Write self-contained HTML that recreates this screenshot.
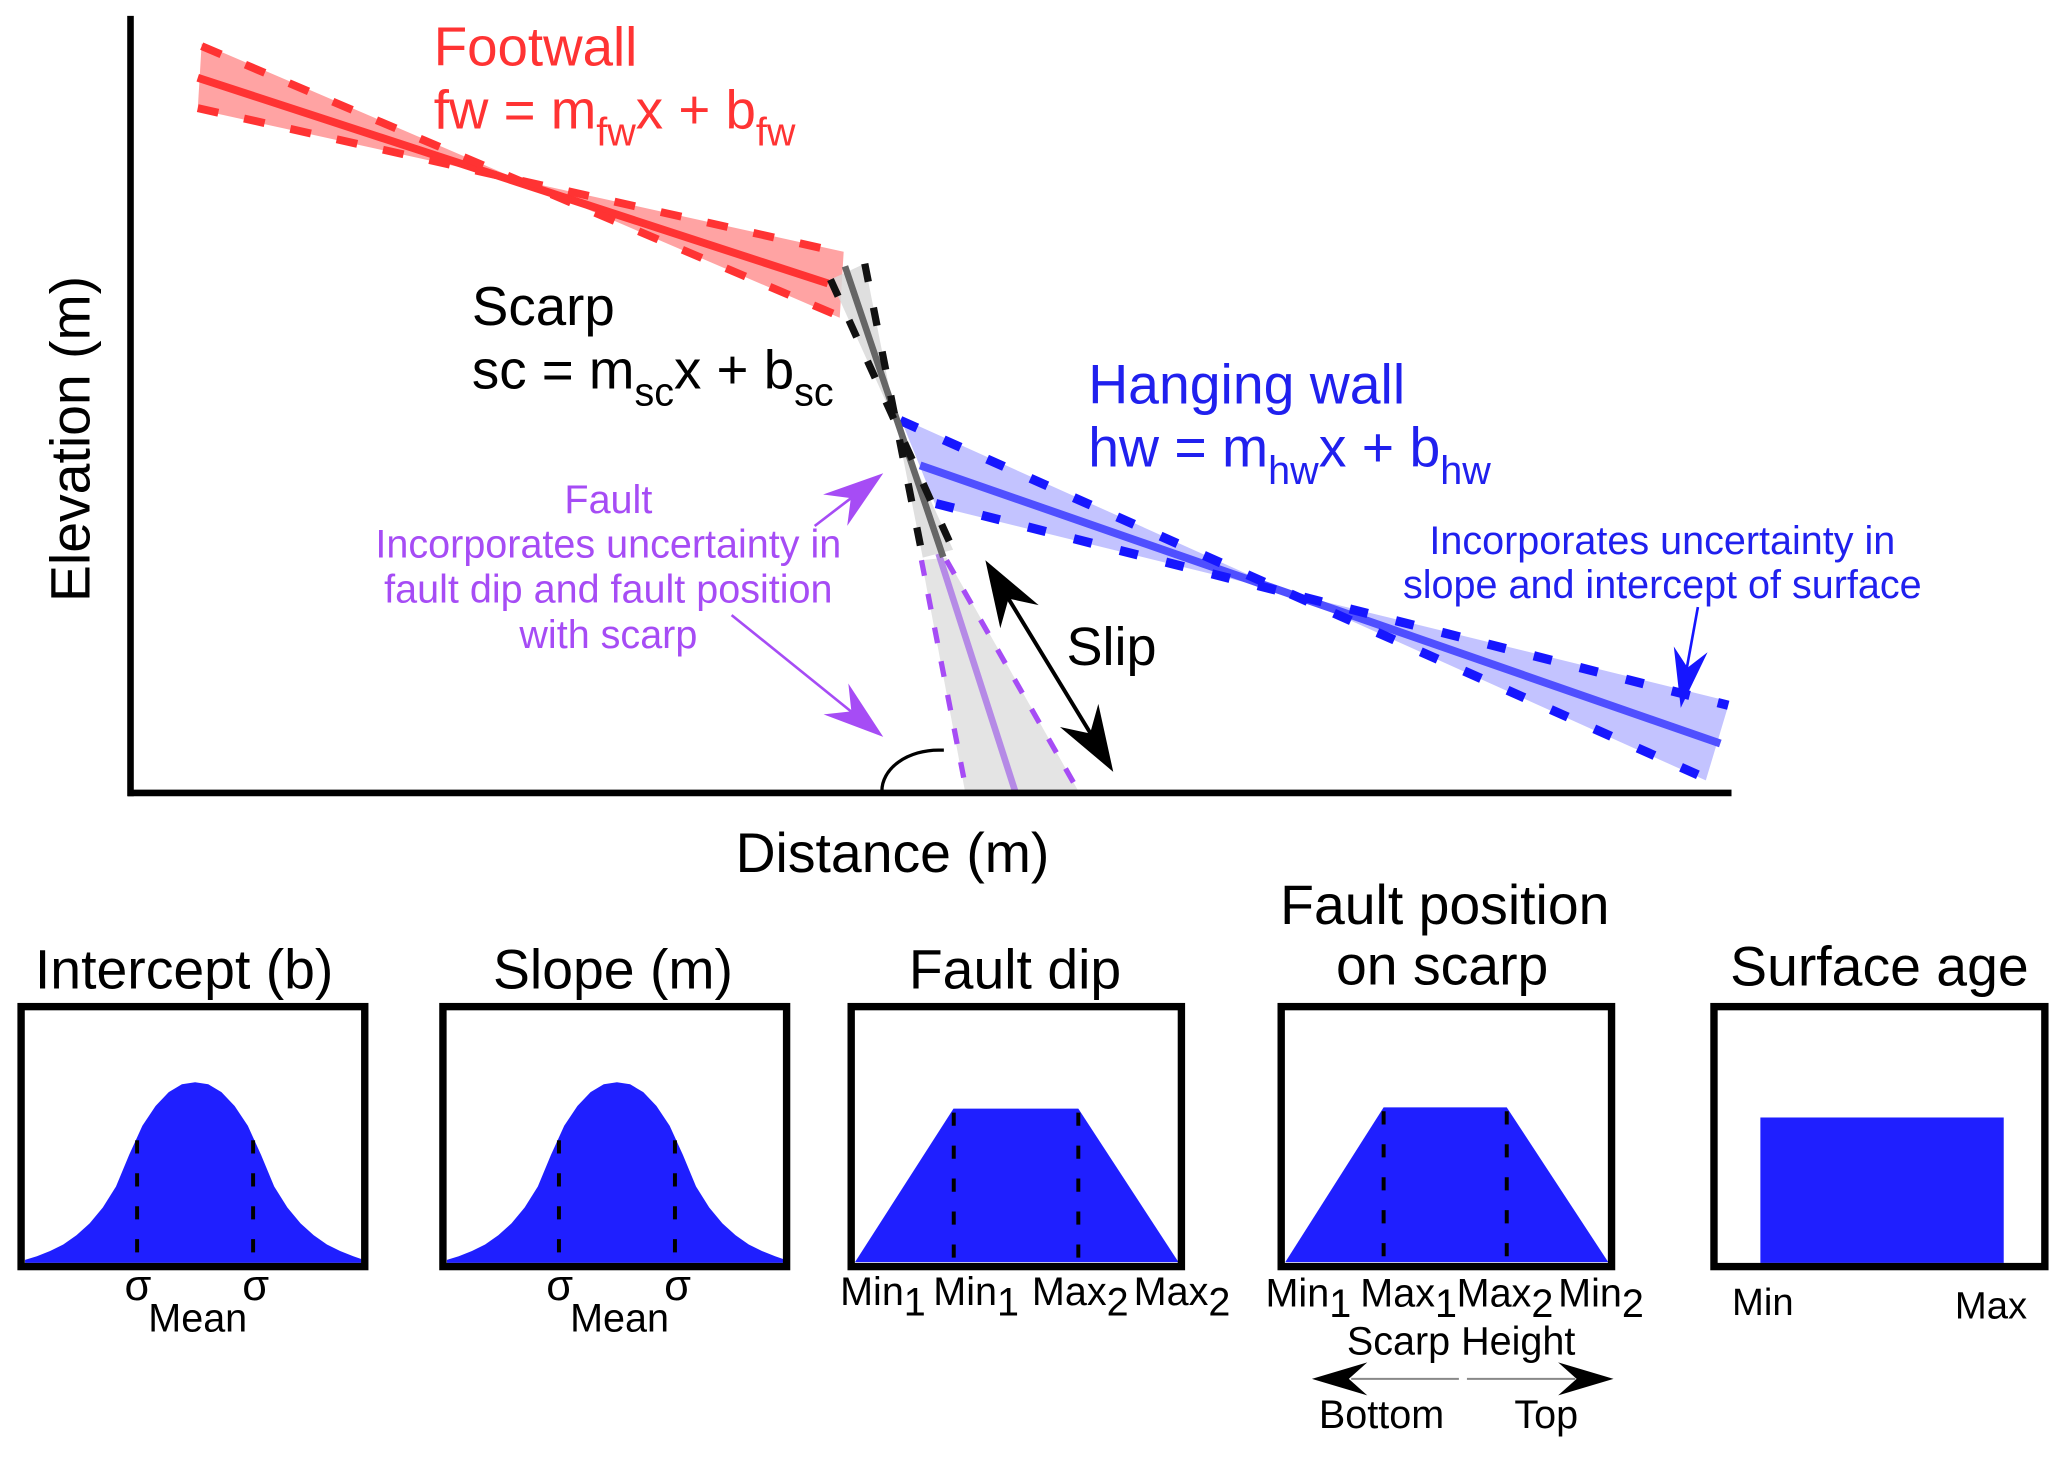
<!DOCTYPE html>
<html><head><meta charset="utf-8"><style>
html,body{margin:0;padding:0;background:#fff;}
svg{display:block;}
text{font-family:"Liberation Sans",Arial,sans-serif;}
</style></head><body>
<svg width="2067" height="1458" viewBox="0 0 1568 1106" preserveAspectRatio="none" xmlns="http://www.w3.org/2000/svg">
<rect x="0" y="0" width="1568" height="1106" fill="#fff"/>

<!-- fills -->
<polygon points="699,425 718,423 818,600 732,600" fill="#e4e4e4"/>
<polygon points="150,83 640,191 637,241 153,33" fill="#ffa3a3"/>
<polygon points="683,317 1294,592 1312,532 710,384" fill="#c3c3ff"/>
<polygon points="630,212 723,417 700,423 656,200" fill="#d9d9d9" fill-opacity="0.85"/>

<!-- footwall lines -->
<line x1="150" y1="59" x2="628" y2="215" stroke="#ff3333" stroke-width="6"/>
<line x1="153" y1="35" x2="637" y2="240" stroke="#ff3333" stroke-width="6" stroke-dasharray="16 20"/>
<line x1="150" y1="82" x2="640" y2="192" stroke="#ff3333" stroke-width="6" stroke-dasharray="16 20"/>

<!-- hanging wall lines -->
<line x1="698" y1="353" x2="1305" y2="564" stroke="#4f4fff" stroke-width="6"/>
<line x1="683" y1="319" x2="1293" y2="590" stroke="#1616ff" stroke-width="7" stroke-dasharray="14 22"/>
<line x1="710" y1="382" x2="1311" y2="535" stroke="#1616ff" stroke-width="7" stroke-dasharray="14 22"/>

<!-- fault lines -->
<line x1="712" y1="420" x2="770" y2="600" stroke="#b58ae6" stroke-width="5"/>
<line x1="699" y1="425" x2="733" y2="600" stroke="#a64cf5" stroke-width="4" stroke-dasharray="12 14"/>
<line x1="718" y1="425" x2="818" y2="600" stroke="#a64cf5" stroke-width="4" stroke-dasharray="12 14"/>

<!-- scarp lines -->
<line x1="641" y1="202" x2="715.5" y2="422.6" stroke="#666" stroke-width="5"/>
<line x1="630" y1="212" x2="723" y2="417" stroke="#111" stroke-width="5.5" stroke-dasharray="14 20"/>
<line x1="656" y1="200" x2="700" y2="423" stroke="#111" stroke-width="5.5" stroke-dasharray="14 20"/>

<!-- axes -->
<line x1="99" y1="12" x2="99" y2="604" stroke="#000" stroke-width="5"/>
<line x1="97" y1="601.5" x2="1313.5" y2="601.5" stroke="#000" stroke-width="5"/>

<!-- dip angle arc -->
<path d="M669,600 A43,31 0 0 1 712,569 L716,569" fill="none" stroke="#000" stroke-width="2.5"/>

<!-- slip arrow -->
<line x1="757" y1="441" x2="835" y2="569" stroke="#000" stroke-width="3"/>
<path d="M0,0 L-50,-17 L-34,0 L-50,17 Z" fill="#000" transform="translate(747.5,425) rotate(-121.15)"/>
<path d="M0,0 L-50,-17 L-34,0 L-50,17 Z" fill="#000" transform="translate(844.5,585.5) rotate(58.85)"/>

<!-- blue annotation arrow -->
<line x1="1288" y1="460.5" x2="1279" y2="510" stroke="#1616ff" stroke-width="2"/>
<path d="M0,0 L-45,-13 L-31,0 L-45,13 Z" fill="#1616ff" transform="translate(1275,537) rotate(99.64)"/>

<!-- purple arrows -->
<line x1="618" y1="399" x2="648" y2="376" stroke="#a64cf5" stroke-width="2"/>
<path d="M0,0 L-46,-15 L-31,0 L-46,15 Z" fill="#a64cf5" transform="translate(670,359) rotate(-37.57)"/>
<line x1="555" y1="466.6" x2="646" y2="540" stroke="#a64cf5" stroke-width="2"/>
<path d="M0,0 L-46,-15 L-31,0 L-46,15 Z" fill="#a64cf5" transform="translate(670,559) rotate(38.78)"/>

<!-- main texts -->
<text x="329" y="49.5" font-size="41.5" fill="#ff3333">Footwall</text>
<text x="329" y="97.5" font-size="41.5" fill="#ff3333">fw = m<tspan font-size="30" dy="13">fw</tspan><tspan dy="-13">x + b</tspan><tspan font-size="30" dy="13">fw</tspan></text>

<text x="358" y="246.6" font-size="41.5" fill="#000">Scarp</text>
<text x="358" y="294.6" font-size="41.5" fill="#000">sc = m<tspan font-size="30" dy="13">sc</tspan><tspan dy="-13">x + b</tspan><tspan font-size="30" dy="13">sc</tspan></text>

<text x="825.5" y="306" font-size="42" fill="#2020ee">Hanging wall</text>
<text x="825.5" y="354" font-size="42" fill="#2020ee">hw = m<tspan font-size="30" dy="13">hw</tspan><tspan dy="-13">x + b</tspan><tspan font-size="30" dy="13">hw</tspan></text>

<g font-size="30" fill="#2020ee" text-anchor="middle">
<text x="1261" y="420.4">Incorporates uncertainty in</text>
<text x="1261" y="453.7">slope and intercept of surface</text>
</g>

<g font-size="30" fill="#a64cf5" text-anchor="middle">
<text x="461.5" y="389">Fault</text>
<text x="461.5" y="423">Incorporates uncertainty in</text>
<text x="461.5" y="457">fault dip and fault position</text>
<text x="461.5" y="491.4">with scarp</text>
</g>

<text x="809" y="504.6" font-size="41" fill="#000">Slip</text>

<text transform="translate(68,333) rotate(-90)" text-anchor="middle" font-size="42" fill="#000">Elevation (m)</text>
<text x="677" y="661.4" text-anchor="middle" font-size="42" fill="#000">Distance (m)</text>

<!-- panel titles -->
<g font-size="42" fill="#000" text-anchor="middle">
<text x="139.7" y="749.8">Intercept (b)</text>
<text x="465" y="749.8">Slope (m)</text>
<text x="770" y="749.8">Fault dip</text>
<text x="1096" y="701">Fault position</text>
<text x="1094" y="747">on scarp</text>
<text x="1425.7" y="747.5">Surface age</text>
</g>

<!-- panel 1 -->
<path d="M19,955.7 L28,953 L38,949 L48,944 L58,937 L68,928 L78,916 L88,900 L98,876 L108,854 L118,839 L128,828.5 L138,822.5 L148,821 L158,822.5 L168,828.5 L178,839 L188,854 L198,876 L208,900 L218,916 L228,928 L238,937 L248,944 L258,949 L268,953 L274,955 L274,958 L19,958 Z" fill="#1f1fff"/>
<line x1="104" y1="865" x2="104" y2="957" stroke="#000" stroke-width="3" stroke-dasharray="10 15"/>
<line x1="192" y1="865" x2="192" y2="957" stroke="#000" stroke-width="3" stroke-dasharray="10 15"/>
<rect x="16" y="763.6" width="260.7" height="197.2" fill="none" stroke="#000" stroke-width="5.6"/>

<!-- panel 2 -->
<g transform="translate(320,0)">
<path d="M19,955.7 L28,953 L38,949 L48,944 L58,937 L68,928 L78,916 L88,900 L98,876 L108,854 L118,839 L128,828.5 L138,822.5 L148,821 L158,822.5 L168,828.5 L178,839 L188,854 L198,876 L208,900 L218,916 L228,928 L238,937 L248,944 L258,949 L268,953 L274,955 L274,958 L19,958 Z" fill="#1f1fff"/>
<line x1="104" y1="865" x2="104" y2="957" stroke="#000" stroke-width="3" stroke-dasharray="10 15"/>
<line x1="192" y1="865" x2="192" y2="957" stroke="#000" stroke-width="3" stroke-dasharray="10 15"/>
<rect x="16" y="763.6" width="260.7" height="197.2" fill="none" stroke="#000" stroke-width="5.6"/>
</g>

<g font-size="33" fill="#000" text-anchor="middle">
<text x="104.6" y="986">σ</text>
<text x="194" y="986">σ</text>
<text x="424.6" y="986">σ</text>
<text x="514" y="986">σ</text>
</g>
<g font-size="30" fill="#000" text-anchor="middle">
<text x="150" y="1010">Mean</text>
<text x="470" y="1010">Mean</text>
</g>

<!-- panel 3 -->
<polygon points="648.6,957.4 723.3,841 818,841 894,957.4" fill="#1f1fff"/>
<line x1="723.5" y1="844" x2="723.5" y2="957" stroke="#000" stroke-width="3" stroke-dasharray="10 15"/>
<line x1="818" y1="844" x2="818" y2="957" stroke="#000" stroke-width="3" stroke-dasharray="10 15"/>
<rect x="645.7" y="763.6" width="250.5" height="197.2" fill="none" stroke="#000" stroke-width="5.6"/>
<g font-size="30" fill="#000">
<text x="637.3" y="990">Min<tspan dy="8">1</tspan></text>
<text x="708" y="990">Min<tspan dy="8">1</tspan></text>
<text x="782.8" y="990">Max<tspan dy="8">2</tspan></text>
<text x="860" y="990">Max<tspan dy="8">2</tspan></text>
</g>

<!-- panel 4 -->
<polygon points="975,957.4 1049.6,840 1143,840 1220,957.4" fill="#1f1fff"/>
<line x1="1049.6" y1="843" x2="1049.6" y2="957" stroke="#000" stroke-width="3" stroke-dasharray="10 15"/>
<line x1="1143" y1="843" x2="1143" y2="957" stroke="#000" stroke-width="3" stroke-dasharray="10 15"/>
<rect x="971.9" y="763.6" width="250.6" height="197.2" fill="none" stroke="#000" stroke-width="5.6"/>
<g font-size="30" fill="#000">
<text x="960" y="991">Min<tspan dy="8">1</tspan></text>
<text x="1031.9" y="991">Max<tspan dy="8">1</tspan></text>
<text x="1105" y="991">Max<tspan dy="8">2</tspan></text>
<text x="1182" y="991">Min<tspan dy="8">2</tspan></text>
</g>
<text x="1108.4" y="1027.5" font-size="30" text-anchor="middle" fill="#000">Scarp Height</text>
<line x1="1025" y1="1046" x2="1106.7" y2="1046" stroke="#888" stroke-width="1.5"/>
<line x1="1112.8" y1="1046" x2="1195" y2="1046" stroke="#888" stroke-width="1.5"/>
<path d="M0,0 L-42,-12.5 L-28,0 L-42,12.5 Z" fill="#000" transform="translate(995.2,1046) rotate(180)"/>
<path d="M0,0 L-42,-12.5 L-28,0 L-42,12.5 Z" fill="#000" transform="translate(1224,1046)"/>
<text x="1048" y="1083.3" font-size="30" text-anchor="middle" fill="#000">Bottom</text>
<text x="1173" y="1083.3" font-size="30" text-anchor="middle" fill="#000">Top</text>

<!-- panel 5 -->
<rect x="1335.4" y="847.7" width="184.6" height="110.3" fill="#1f1fff"/>
<rect x="1300.2" y="763.6" width="251" height="197.2" fill="none" stroke="#000" stroke-width="5.6"/>
<text x="1313.9" y="997.7" font-size="29" fill="#000">Min</text>
<text x="1483" y="1000" font-size="29" fill="#000">Max</text>
</svg>
</body></html>
